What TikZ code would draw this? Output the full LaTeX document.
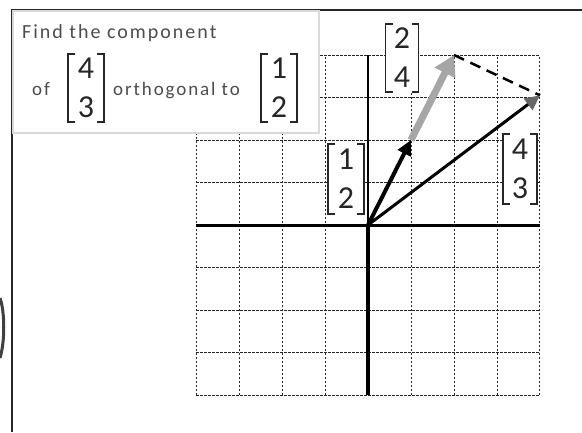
\documentclass[tikz,border=0pt]{standalone}
\usepackage{fontspec}
\setmainfont{Carlito}
\usetikzlibrary{arrows.meta}
\tikzset{
  frameline/.style={line width=2.5pt, black!85},
  gridl/.style={line width=1pt, black!85, dash pattern=on 2.5pt off 1.5pt},
  brk/.style={inner sep=0pt, fill=white, align=center,
    font=\fontsize{32}{39}\selectfont, text=black!85,
    minimum width=#1, minimum height=72pt,
    path picture={
      \draw[line width=1.5pt, black!85]
        ([xshift=8pt,yshift=-1pt]path picture bounding box.north west) --
        ([xshift=1pt,yshift=-1pt]path picture bounding box.north west) --
        ([xshift=1pt,yshift=1pt]path picture bounding box.south west) --
        ([xshift=8pt,yshift=1pt]path picture bounding box.south west);
      \draw[line width=1.5pt, black!85]
        ([xshift=-8pt,yshift=-1pt]path picture bounding box.north east) --
        ([xshift=-1pt,yshift=-1pt]path picture bounding box.north east) --
        ([xshift=-1pt,yshift=1pt]path picture bounding box.south east) --
        ([xshift=-8pt,yshift=1pt]path picture bounding box.south east);
    }},
  boxtxt/.style={anchor=base west, inner sep=0pt, text=black!70,
    font=\fontsize{19}{22}\selectfont\addfontfeature{LetterSpace=10}},
}
\begin{document}
\begin{tikzpicture}[x=1pt,y=-1pt]
\useasboundingbox (0,0) rectangle (582,432);
\clip (0,0) rectangle (582,432);
\fill[white] (0,0) rectangle (582,432);
% outer frame
\draw[frameline] (582,10) -- (12,10) -- (12,432);
% artifact arc at left edge
\draw[line width=3pt, black!75] (0,298) .. controls (5,312) and (5,342) .. (0,358);
% grid and axes
\begin{scope}[shift={(368,225)}, x=43pt, y=42.5pt]
  \draw[gridl, step=1] (-4,-4) grid (4,4);
  \draw[line width=3pt] (-4,0) -- (4,0);
  \draw[line width=4pt] (0,0) -- (0,-4);
  \draw[line width=1.3pt] (0,0) -- (0,4);
  \coordinate (O) at (0,0);
  \coordinate (A) at (1,2);
  \coordinate (C) at (2,4);
  \coordinate (B) at (4,3.05);
\end{scope}
% text box
\node[draw=gray!30, line width=2pt, fill=white, anchor=north west,
      minimum width=306pt, minimum height=122pt, inner sep=0pt] (tb) at (12,10) {};
\node[boxtxt, font=\fontsize{20}{24}\selectfont\addfontfeature{LetterSpace=10}] (t1) at (22,38) {Find the component};
\node[boxtxt] (t2) at (32,95) {of};
\node[boxtxt] (t3) at (113,95) {orthogonal to};
\node[brk=38pt, minimum height=70pt] (m43) at (86,88) {4\\3};
\node[brk=38pt, minimum height=70pt] (m12) at (279,88) {1\\2};
% vector labels
\node[brk=38pt] (l12) at (346,179) {1\\2};
\node[brk=36pt] (l43) at (520,169) {4\\3};
\node[brk=35pt, minimum height=70pt] (l24) at (402,58) {2\\4};
% vectors
\draw[line width=2.5pt, dash pattern=on 11pt off 7pt] (C) -- (B);
\draw[line width=7pt, gray!70, -{Triangle[length=20pt,width=22pt]}] (A) -- (C);
\draw[line width=3pt, -{Triangle[length=15pt,width=14pt,color=black!60]}] (O) -- (B);
\draw[line width=4pt, -{Triangle[length=15pt,width=14pt]}] (O) -- (A);
\end{tikzpicture}
\end{document}
